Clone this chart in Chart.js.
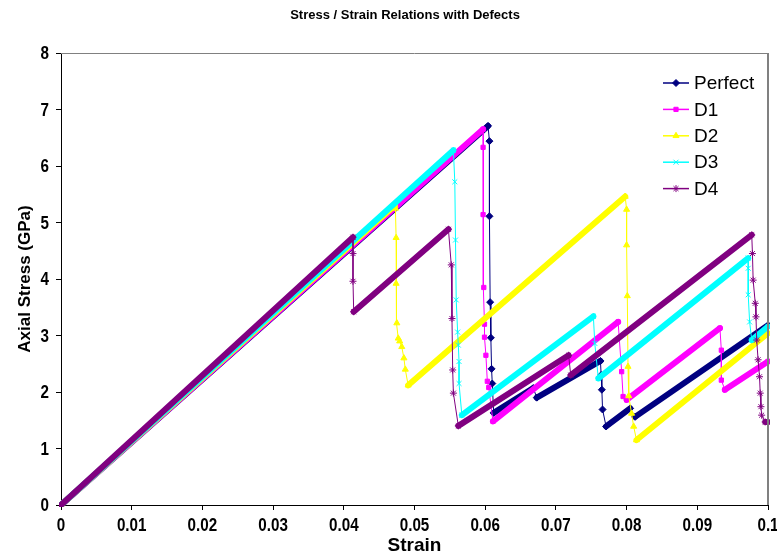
<!DOCTYPE html>
<html>
<head>
<meta charset="utf-8">
<script src="https://cdn.jsdelivr.net/npm/chart.js@4.4.1/dist/chart.umd.min.js"></script>
<style>
  html, body { margin: 0; padding: 0; background: #fff; }
  #wrap { width: 777px; height: 557px; }
</style>
</head>
<body>
<div id="wrap"><canvas id="chart" width="777" height="557"></canvas></div>
<script>
var titleText = 'Stress / Strain Relations with Defects';
var xTitle = 'Strain';
var yTitle = 'Axial Stress (GPa)';
var seriesNames = ['Perfect', 'D1', 'D2', 'D3', 'D4'];

var xTickValues = [0, 0.01, 0.02, 0.03, 0.04, 0.05, 0.06, 0.07, 0.08, 0.09, 0.1];
var xTickLabels = ['0', '0.01', '0.02', '0.03', '0.04', '0.05', '0.06', '0.07', '0.08', '0.09', '0.1'];
var yTickValues = [0, 1, 2, 3, 4, 5, 6, 7, 8];
var yTickLabels = ['0', '1', '2', '3', '4', '5', '6', '7', '8'];

var perfectStrain = [0, 0.0604, 0.0606, 0.0606, 0.0607, 0.0608, 0.0609, 0.0610, 0.0612, 0.0668, 0.0673, 0.0763, 0.0764, 0.0765, 0.0766, 0.0771, 0.0805, 0.0812, 0.1];
var perfectStress = [0, 6.71, 6.44, 5.11, 3.59, 2.96, 2.41, 2.15, 1.63, 2.07, 1.90, 2.55, 2.30, 2.04, 1.69, 1.39, 1.71, 1.56, 3.18];

var d1Strain = [0, 0.0597, 0.0597, 0.0597, 0.0598, 0.0599, 0.0599, 0.0601, 0.0603, 0.0605, 0.0611, 0.0788, 0.0793, 0.0795, 0.0800, 0.0932, 0.0934, 0.0934, 0.0939, 0.1];
var d1Stress = [0, 6.65, 6.33, 5.14, 3.85, 3.20, 2.97, 2.65, 2.19, 2.08, 1.48, 3.24, 2.36, 1.92, 1.86, 3.13, 2.74, 2.21, 2.04, 2.54];

var d2Strain = [0, 0.0472, 0.0473, 0.0474, 0.0474, 0.0475, 0.0477, 0.0479, 0.0482, 0.0485, 0.0487, 0.0491, 0.0798, 0.0800, 0.0800, 0.0801, 0.0802, 0.0803, 0.0807, 0.0810, 0.0814, 0.1];
var d2Stress = [0, 5.30, 5.25, 4.73, 3.92, 3.22, 2.95, 2.90, 2.80, 2.60, 2.40, 2.12, 5.46, 5.23, 4.60, 3.70, 2.45, 1.93, 1.62, 1.39, 1.15, 3.04];

var d3Strain = [0, 0.0555, 0.0557, 0.0558, 0.0559, 0.0561, 0.0562, 0.0563, 0.0563, 0.0567, 0.0753, 0.0755, 0.0760, 0.0972, 0.0972, 0.0972, 0.0974, 0.0977, 0.1];
var d3Stress = [0, 6.28, 5.72, 4.69, 3.63, 3.06, 2.83, 2.54, 2.15, 1.59, 3.34, 2.86, 2.24, 4.37, 4.19, 3.72, 3.24, 2.92, 3.16];

var d4Strain = [0, 0.0413, 0.0413, 0.0413, 0.0414, 0.0548, 0.0552, 0.0553, 0.0554, 0.0555, 0.0562, 0.0718, 0.0721, 0.0977, 0.0978, 0.0979, 0.0982, 0.0983, 0.0984, 0.0986, 0.0988, 0.0989, 0.0990, 0.0991, 0.0996, 0.1];
var d4Stress = [0, 4.74, 4.45, 3.96, 3.42, 4.88, 4.25, 3.30, 2.39, 1.98, 1.40, 2.65, 2.30, 4.78, 4.45, 3.98, 3.57, 3.33, 2.92, 2.57, 2.27, 1.98, 1.74, 1.59, 1.47, 1.47];

var seriesStrain = [perfectStrain, d1Strain, d2Strain, d3Strain, d4Strain];
var seriesStress = [perfectStress, d1Stress, d2Stress, d3Stress, d4Stress];
var seriesColors = ['#000080', '#ff00ff', '#ffff00', '#00ffff', '#800080'];
var seriesMarkers = ['rectRot', 'rect', 'triangle', 'crossRot', 'star'];
var markerRadius = [3.5, 3, 3.5, 3.5, 3.5];

var sansFont = '"Liberation Sans", Arial, sans-serif';

function toPoints(xs, ys) {
  return xs.map(function (x, i) {
    return { x: x, y: ys[i] };
  });
}

// rising parts are a dense run of markers in the original: draw them as a fat band
function bandWidth(c) {
  var rising = c.p1.parsed.x > c.p0.parsed.x && c.p1.parsed.y >= c.p0.parsed.y;
  return rising ? 6 : 1;
}

// the axis numbers in the original are a squeezed bold face, no narrow font here so squeeze by hand
function squeezedText(ctx, text, x, y, align) {
  ctx.save();
  ctx.translate(x, y);
  ctx.scale(0.8, 1);
  ctx.textAlign = align;
  ctx.fillText(text, 0, 0);
  ctx.restore();
}

var datasets = seriesNames.map(function (name, i) {
  return {
    label: name,
    data: toPoints(seriesStrain[i], seriesStress[i]),
    showLine: true,
    borderColor: seriesColors[i],
    backgroundColor: seriesColors[i],
    borderWidth: 1,
    borderCapStyle: 'round',
    borderJoinStyle: 'round',
    pointStyle: seriesMarkers[i],
    pointRadius: markerRadius[i],
    pointBorderWidth: 1,
    pointHoverRadius: markerRadius[i],
    order: seriesNames.length - 1 - i,
    clip: 2,
    segment: { borderWidth: bandWidth },
  };
});

var decor = {
  id: 'decor',
  afterDraw: function (chart) {
    var ctx = chart.ctx;
    var a = chart.chartArea;
    var xs = chart.scales.x;
    var ys = chart.scales.y;
    ctx.save();

    ctx.strokeStyle = '#808080';
    ctx.lineWidth = 2;
    ctx.beginPath();
    ctx.moveTo(a.right, a.top);
    ctx.lineTo(a.right, a.bottom);
    ctx.stroke();
    ctx.lineWidth = 1;
    ctx.beginPath();
    ctx.moveTo(a.left, a.top + 0.5);
    ctx.lineTo(a.right, a.top + 0.5);
    ctx.stroke();

    ctx.fillStyle = '#000';
    ctx.font = 'bold 13px ' + sansFont;
    ctx.textAlign = 'center';
    ctx.textBaseline = 'middle';
    ctx.fillText(titleText, 405, 15);

    ctx.font = 'bold 19px ' + sansFont;
    xTickValues.forEach(function (v, i) {
      squeezedText(ctx, xTickLabels[i], xs.getPixelForValue(v), 526, 'center');
    });
    yTickValues.forEach(function (v, i) {
      squeezedText(ctx, yTickLabels[i], 49, ys.getPixelForValue(v) + 1, 'right');
    });

    // Excel style legend: short line with its marker, then the name
    ctx.font = '19px ' + sansFont;
    ctx.textAlign = 'left';
    seriesNames.forEach(function (name, i) {
      var y = 83 + i * 26.4;
      ctx.strokeStyle = seriesColors[i];
      ctx.fillStyle = seriesColors[i];
      ctx.lineWidth = 1.5;
      ctx.beginPath();
      ctx.moveTo(663, y);
      ctx.lineTo(689, y);
      ctx.stroke();
      ctx.lineWidth = 1;
      Chart.helpers.drawPoint(ctx, { pointStyle: seriesMarkers[i], radius: markerRadius[i], rotation: 0, borderWidth: 1 }, 676, y);
      ctx.fillStyle = '#000';
      ctx.fillText(name, 694, y + 1);
    });
    ctx.restore();
  },
};

new Chart(document.getElementById('chart'), {
  type: 'scatter',
  data: { datasets: datasets },
  options: {
    responsive: false,
    animation: false,
    layout: { padding: { left: 0, right: 9, top: 53, bottom: 0 } },
    plugins: {
      legend: { display: false },
      title: { display: false },
      tooltip: { enabled: false },
    },
    scales: {
      x: {
        type: 'linear',
        min: 0,
        max: 0.1,
        afterBuildTicks: function (scale) {
          scale.ticks = xTickValues.map(function (v) { return { value: v }; });
        },
        afterFit: function (scale) {
          scale.height = 52;
          scale.paddingLeft = 0;
          scale.paddingRight = 0;
        },
        ticks: { display: false, autoSkip: false },
        grid: { drawOnChartArea: false, drawTicks: true, tickLength: 5, color: '#000' },
        border: { display: true, color: '#000', width: 1 },
        title: {
          display: true,
          text: xTitle,
          color: '#000',
          font: { family: sansFont, size: 19, weight: 'bold' },
          padding: { top: 0, bottom: 0 },
        },
      },
      y: {
        type: 'linear',
        min: 0,
        max: 8,
        afterBuildTicks: function (scale) {
          scale.ticks = yTickValues.map(function (v) { return { value: v }; });
        },
        afterFit: function (scale) {
          scale.width = 61;
          scale.paddingTop = 0;
          scale.paddingBottom = 0;
        },
        ticks: { display: false, autoSkip: false },
        grid: { drawOnChartArea: false, drawTicks: true, tickLength: 5, color: '#000' },
        border: { display: true, color: '#000', width: 1 },
        title: {
          display: true,
          text: yTitle,
          color: '#000',
          font: { family: sansFont, size: 17, weight: 'bold' },
          padding: { top: 15, bottom: 0 },
        },
      },
    },
  },
  plugins: [decor],
});
</script>
</body>
</html>
